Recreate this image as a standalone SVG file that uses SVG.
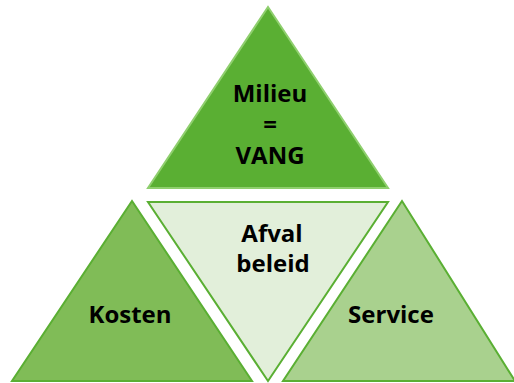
<svg xmlns="http://www.w3.org/2000/svg" width="514" height="383" viewBox="0 0 514 383">
<style>
.t{font-family:"Open Sans","Noto Sans","Liberation Sans",sans-serif;font-weight:bold;font-size:24px;fill:#000;text-anchor:middle}
.s{stroke-width:2;stroke-linejoin:miter}
</style>
<rect width="514" height="383" fill="#fff"/>
<g id="milieu">
<polygon class="s" points="268,7 148,188 388,188" fill="#5aaf33" stroke="#8fcf6e"/>
<text class="t" x="270" y="102">Milieu</text>
<text class="t" x="270" y="133">=</text>
<text class="t" x="270" y="164">VANG</text>
</g>
<g id="kosten">
<polygon class="s" points="132,201 12,381 252,381" fill="#80bc57" stroke="#5aaf33"/>
<text class="t" x="130" y="323">Kosten</text>
</g>
<g id="afvalbeleid">
<polygon class="s" points="148,202 388,202 268,381" fill="#e2efda" stroke="#5aaf33"/>
<text class="t" x="272" y="242">Afval</text>
<text class="t" x="273" y="272">beleid</text>
</g>
<g id="service">
<polygon class="s" points="402,201 283,381 515,381" fill="#a9d18e" stroke="#5aaf33"/>
<text class="t" x="391" y="323">Service</text>
</g>
<g id="connectors"></g>
</svg>
